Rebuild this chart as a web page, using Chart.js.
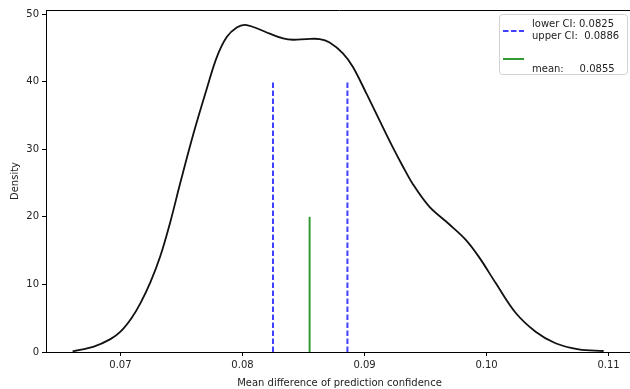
<!DOCTYPE html>
<html>
<head>
<meta charset="utf-8">
<script src="https://cdn.jsdelivr.net/npm/chart.js@4.4.1/dist/chart.umd.min.js"></script>
<style>
  html, body { margin: 0; padding: 0; background: #fff; overflow: hidden; }
  #wrap { width: 630px; height: 389px; overflow: hidden; }
</style>
</head>
<body>
<div id="wrap"><canvas id="kdeChart" width="640" height="389"></canvas></div>
<script>
// Kernel density estimate of the mean difference
const kdeX = [0.06608, 0.06782, 0.06918, 0.0700, 0.0709, 0.07163, 0.07245, 0.07327, 0.07408, 0.0749,
    0.07598, 0.07708, 0.07789, 0.07871, 0.07953, 0.0802, 0.08116, 0.08224, 0.08333, 0.08415,
    0.08524, 0.08633, 0.08714, 0.08823, 0.08904, 0.09014, 0.09122, 0.09231, 0.0931, 0.09394,
    0.09531, 0.09694, 0.0983, 0.0994, 0.10075, 0.10238, 0.10402, 0.10565, 0.10755, 0.10959];
const kdeY = [0.1, 0.8, 1.9, 3.0, 5.0, 7.2, 10.3, 14.2, 19.2, 25.0,
    32.3, 39.0, 43.6, 46.6, 48.0, 48.4, 47.9, 47.1, 46.4, 46.2,
    46.3, 46.3, 45.8, 44.2, 42.2, 38.3, 34.3, 30.3, 27.6, 24.9,
    21.5, 18.9, 16.6, 14.0, 10.2, 5.8, 3.0, 1.3, 0.4, 0.15];

// Confidence interval and mean markers
const ciLower = 0.0825;
const ciUpper = 0.0886;
const meanValue = 0.0855;
const ciLineTop = 40;
const meanLineTop = 20;

// Axis ticks
const xTicks = [0.07, 0.08, 0.09, 0.10, 0.11];
const yTicks = [0, 10, 20, 30, 40, 50];

const kdePoints = kdeX.map((x, i) => ({ x: x, y: kdeY[i] }));
const ciPoints = [
    { x: ciLower, y: 0 }, { x: ciLower, y: ciLineTop }, { x: ciLower, y: null },
    { x: ciUpper, y: 0 }, { x: ciUpper, y: ciLineTop }
];
const meanPoints = [{ x: meanValue, y: 0 }, { x: meanValue, y: meanLineTop }];

const tickFont = { family: 'DejaVu Sans', size: 10 };
const textColor = '#222';

/**
 * Top/right spines, like a boxed axes frame
 */
const framePlugin = {
    id: 'frame',
    afterDatasetsDraw(chart) {
        const { ctx, chartArea: a } = chart;
        ctx.save();
        ctx.strokeStyle = '#000';
        ctx.lineWidth = 1;
        ctx.beginPath();
        ctx.moveTo(a.left, a.top + 0.5);
        ctx.lineTo(a.right, a.top + 0.5);
        ctx.lineTo(a.right, a.bottom);
        ctx.stroke();
        ctx.restore();
    }
};

/**
 * Legend box with multi-line entries
 */
const boxLegendPlugin = {
    id: 'boxLegend',
    afterDraw(chart) {
        const ctx = chart.ctx;
        const box = { x: 499.5, y: 14.5, w: 128, h: 60 };
        ctx.save();
        ctx.fillStyle = 'rgba(255,255,255,0.8)';
        ctx.strokeStyle = '#d0d0d0';
        ctx.lineWidth = 1;
        ctx.beginPath();
        ctx.roundRect(box.x, box.y, box.w, box.h, 3);
        ctx.fill();
        ctx.stroke();

        ctx.font = '10px "DejaVu Sans"';
        ctx.fillStyle = textColor;
        ctx.textBaseline = 'middle';

        const entries = [
            { ds: chart.data.datasets[1], handleY: 31, textY: [24, 36] },
            { ds: chart.data.datasets[2], handleY: 59, textY: [69] }
        ];
        entries.forEach(e => {
            ctx.strokeStyle = e.ds.borderColor;
            ctx.lineWidth = e.ds.borderWidth;
            ctx.setLineDash(e.ds.borderDash || []);
            ctx.beginPath();
            ctx.moveTo(503, e.handleY);
            ctx.lineTo(524, e.handleY);
            ctx.stroke();
            ctx.setLineDash([]);
            const lines = Array.isArray(e.ds.label) ? e.ds.label : [e.ds.label];
            lines.forEach((t, i) => ctx.fillText(t, 532, e.textY[i]));
        });
        ctx.restore();
    }
};

new Chart(document.getElementById('kdeChart'), {
    type: 'line',
    data: {
        datasets: [
            {
                label: 'kde',
                data: kdePoints,
                borderColor: '#111',
                borderWidth: 1.8,
                pointRadius: 0,
                tension: 0.35,
                fill: false
            },
            {
                label: ['lower CI: ' + ciLower.toFixed(4), 'upper CI:  ' + ciUpper.toFixed(4)],
                data: ciPoints,
                borderColor: 'rgba(0,0,255,0.75)',
                borderWidth: 2,
                borderDash: [5.5, 2.5],
                pointRadius: 0,
                spanGaps: false,
                tension: 0
            },
            {
                label: 'mean:     ' + meanValue.toFixed(4),
                data: meanPoints,
                borderColor: 'rgba(0,128,0,0.8)',
                borderWidth: 2,
                pointRadius: 0,
                tension: 0
            }
        ]
    },
    options: {
        responsive: false,
        animation: false,
        events: [],
        layout: { padding: { left: 0, top: 10, right: 7, bottom: 0 } },
        plugins: {
            legend: { display: false },
            tooltip: { enabled: false }
        },
        scales: {
            x: {
                type: 'linear',
                min: 0.0639,
                max: 0.1120,
                afterBuildTicks: scale => { scale.ticks = xTicks.map(v => ({ value: v })); },
                afterFit: scale => { scale.height = 37; },
                ticks: {
                    font: tickFont,
                    color: textColor,
                    padding: 3,
                    maxRotation: 0,
                    callback: v => v.toFixed(2)
                },
                grid: {
                    drawOnChartArea: false,
                    drawTicks: true,
                    tickLength: 4,
                    color: '#000'
                },
                border: { display: true, color: '#000', width: 1 },
                title: {
                    display: true,
                    text: 'Mean difference of prediction confidence',
                    font: tickFont,
                    color: textColor,
                    padding: { top: 4, bottom: 0 }
                }
            },
            y: {
                min: 0,
                max: 50.6,
                afterBuildTicks: scale => { scale.ticks = yTicks.map(v => ({ value: v })); },
                afterFit: scale => { scale.width = 46; },
                ticks: {
                    font: tickFont,
                    color: textColor,
                    padding: 3,
                    callback: v => String(v)
                },
                grid: {
                    drawOnChartArea: false,
                    drawTicks: true,
                    tickLength: 4,
                    color: '#000'
                },
                border: { display: true, color: '#000', width: 1 },
                title: {
                    display: true,
                    text: 'Density',
                    font: tickFont,
                    color: textColor,
                    padding: { top: 9, bottom: 0 }
                }
            }
        }
    },
    plugins: [framePlugin, boxLegendPlugin]
});
</script>
</body>
</html>
